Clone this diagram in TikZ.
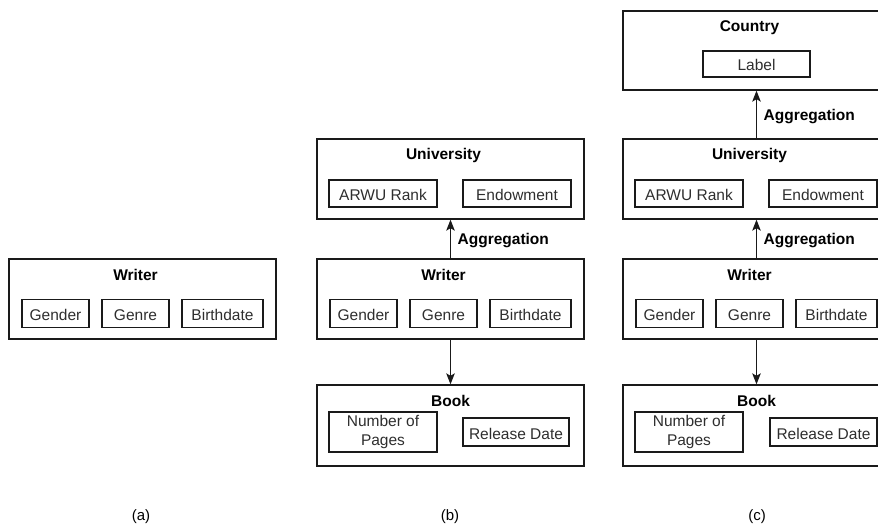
\documentclass[tikz,border=0pt]{standalone}
\usepackage{fontspec}
\setmainfont{Liberation Sans}
\usetikzlibrary{arrows.meta}
\definecolor{edge}{HTML}{1A1A1A}
\definecolor{attrtext}{HTML}{2E2E2E}
\begin{document}
\begin{tikzpicture}[x=1pt,y=-1pt,
  panel/.style={draw=edge,line width=1.3pt,rectangle,inner sep=0,minimum width=267pt},
  ttl/.style={font=\fontsize{15.5pt}{19pt}\selectfont\bfseries,inner sep=0,
    text height=11.1pt,text depth=0pt},
  attrbase/.style={draw=edge,line width=1.2pt,rectangle,inner sep=0,minimum height=28pt,
    text=attrtext,font=\fontsize{15.5pt}{19pt}\selectfont,align=center},
  attr/.style={attrbase,text height=15pt,text depth=1pt},
  arr/.style={draw=edge,line width=1.3pt,-{Stealth[length=11pt,width=8.5pt,inset=2.5pt]}},
  agg/.style={ttl,anchor=west,xshift=6.5pt},
  captext/.style={font=\fontsize{15pt}{18pt}\selectfont,inner sep=0}]
\useasboundingbox (0,0) rectangle (878,526);
\clip (0,0) rectangle (878,526);

% (a) single entity
\node[panel,minimum height=80pt] (aW) at (142.5,299) {};
\node[ttl] (aWt) at (135.5,274.5) {Writer};
\node[attr,minimum width=67pt] (aW1) at (55.5,313.5) {Gender};
\node[attr,minimum width=67pt] (aW2) at (135.5,313.5) {Genre};
\node[attr,minimum width=81pt] (aW3) at (222.5,313.5) {Birthdate};

% (b) writer with university and book
\node[panel,minimum height=80pt] (bU) at (450.5,179) {};
\node[ttl] (bUt) at (443.5,153.5) {University};
\node[attr,minimum width=108pt,minimum height=27pt] (bU1) at (383,193.5) {ARWU Rank};
\node[attr,minimum width=108pt,minimum height=27pt] (bU2) at (517,193.5) {Endowment};

\node[panel,minimum height=80pt] (bW) at (450.5,299) {};
\node[ttl] (bWt) at (443.5,274.5) {Writer};
\node[attr,minimum width=67pt] (bW1) at (363.5,313.5) {Gender};
\node[attr,minimum width=67pt] (bW2) at (443.5,313.5) {Genre};
\node[attr,minimum width=81pt] (bW3) at (530.5,313.5) {Birthdate};

\node[panel,minimum height=81pt] (bB) at (450.5,425.5) {};
\node[ttl] (bBt) at (450.5,401) {Book};
\node[attrbase,minimum width=108pt,minimum height=40pt] (bB1) at (383,432) {Number of\\Pages};
\node[attr,minimum width=106pt] (bB2) at (516,432) {Release Date};

\draw[arr] (bW.north) -- (bU.south) node[agg,midway] {Aggregation};
\draw[arr] (bW.south) -- (bB.north);

% (c) writer with university, country and book
\node[panel,minimum height=79pt] (cC) at (756.5,50.5) {};
\node[ttl] (cCt) at (749.5,25.5) {Country};
\node[attr,minimum width=107pt,minimum height=26pt] (cC1) at (756.5,64) {Label};

\node[panel,minimum height=80pt] (cU) at (756.5,179) {};
\node[ttl] (cUt) at (749.5,153.5) {University};
\node[attr,minimum width=108pt,minimum height=27pt] (cU1) at (689,193.5) {ARWU Rank};
\node[attr,minimum width=108pt,minimum height=27pt] (cU2) at (823,193.5) {Endowment};

\node[panel,minimum height=80pt] (cW) at (756.5,299) {};
\node[ttl] (cWt) at (749.5,274.5) {Writer};
\node[attr,minimum width=67pt] (cW1) at (669.5,313.5) {Gender};
\node[attr,minimum width=67pt] (cW2) at (749.5,313.5) {Genre};
\node[attr,minimum width=81pt] (cW3) at (836.5,313.5) {Birthdate};

\node[panel,minimum height=81pt] (cB) at (756.5,425.5) {};
\node[ttl] (cBt) at (756.5,401) {Book};
\node[attrbase,minimum width=108pt,minimum height=40pt] (cB1) at (689,432) {Number of\\Pages};
\node[attr,minimum width=107pt] (cB2) at (823.5,432) {Release Date};

\draw[arr] (cU.north) -- (cC.south) node[agg,midway] {Aggregation};
\draw[arr] (cW.north) -- (cU.south) node[agg,midway] {Aggregation};
\draw[arr] (cW.south) -- (cB.north);

% captions
\node[captext] (capa) at (141,517) {(a)};
\node[captext] (capb) at (450,517) {(b)};
\node[captext] (capc) at (757,517) {(c)};
\end{tikzpicture}
\end{document}
